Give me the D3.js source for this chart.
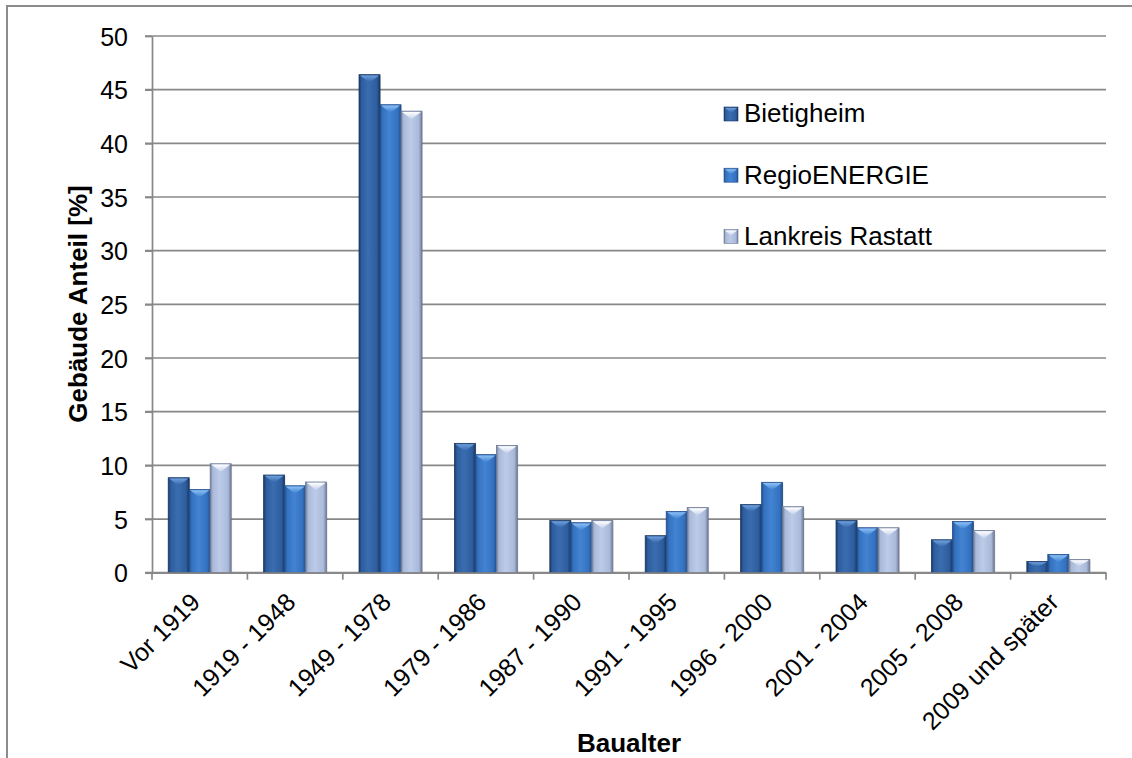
<!DOCTYPE html>
<html lang="de">
<head>
    <meta charset="UTF-8">
    <title>Gebäude Anteil nach Baualter</title>
    <style>
        body { margin: 0; padding: 0; background: #fff; }
        text { font-family: "Liberation Sans", Arial, sans-serif; fill: #000; }
        .grid line { stroke: #888; stroke-width: 1.7; }
        .axis path, .axis line { stroke: #888; stroke-width: 1.7; }
        .axis text { font-size: 25px; }
        .title { font-size: 26px; font-weight: bold; }
    </style>
</head>
<body>
<script src="https://d3js.org/d3.v7.min.js"></script>
<script>
    // Daten
    const categories = ["Vor 1919", "1919 - 1948", "1949 - 1978", "1979 - 1986", "1987 - 1990",
        "1991 - 1995", "1996 - 2000", "2001 - 2004", "2005 - 2008", "2009 und später"];
    const seriesNames = ["Bietigheim", "RegioENERGIE", "Lankreis Rastatt"];
    const bietigheim = [8.85, 9.1, 46.4, 12.05, 4.87, 3.45, 6.35, 4.87, 3.07, 1.05];
    const regioEnergie = [7.75, 8.1, 43.6, 11.0, 4.66, 5.71, 8.42, 4.19, 4.78, 1.7];
    const rastatt = [10.15, 8.45, 43.0, 11.86, 4.87, 6.08, 6.15, 4.19, 3.94, 1.24];
    const yTicks = [0, 5, 10, 15, 20, 25, 30, 35, 40, 45, 50];

    const seriesValues = [bietigheim, regioEnergie, rastatt];

    // Farben pro Serie: Rand, Mitte, Spitze (Chevron)
    const colors = [
        { edge: "#1b3862", mid: "#2d5d9e", light: "#3a6db0", tip1: "#6f9fdc", tip2: "#2f62a6" },
        { edge: "#234f8c", mid: "#3472c0", light: "#4283d2", tip1: "#8cc0f6", tip2: "#3a7ccc" },
        { edge: "#6f7a94", mid: "#a9b9d9", light: "#bccbe8", tip1: "#ffffff", tip2: "#c4d0e8" }
    ];

    const W = 1132, H = 758;
    const margin = { top: 36, right: 26, bottom: 185, left: 152 };

    const svg = d3.select("body").append("svg")
        .attr("width", W)
        .attr("height", H);

    const defs = svg.append("defs");
    colors.forEach((c, i) => {
        const g = defs.append("linearGradient")
            .attr("id", "grad" + i)
            .attr("x1", "0%").attr("x2", "100%").attr("y1", "0%").attr("y2", "0%");
        g.append("stop").attr("offset", "0%").attr("stop-color", c.edge);
        g.append("stop").attr("offset", "12%").attr("stop-color", c.mid);
        g.append("stop").attr("offset", "45%").attr("stop-color", c.light);
        g.append("stop").attr("offset", "85%").attr("stop-color", c.mid);
        g.append("stop").attr("offset", "100%").attr("stop-color", c.edge);

        const t = defs.append("linearGradient")
            .attr("id", "tip" + i)
            .attr("x1", "0%").attr("x2", "0%").attr("y1", "0%").attr("y2", "100%");
        t.append("stop").attr("offset", "0%").attr("stop-color", c.tip1);
        t.append("stop").attr("offset", "100%").attr("stop-color", c.tip2);
    });

    // Rahmen (oben und links)
    svg.append("path")
        .attr("d", `M7,${H} L7,6 L${W},6`)
        .attr("fill", "none")
        .attr("stroke", "#8c8c8c")
        .attr("stroke-width", 2);

    const x0 = d3.scaleBand()
        .domain(categories)
        .range([margin.left, W - margin.right])
        .padding(0);

    const x1 = d3.scaleBand()
        .domain(seriesNames)
        .range([x0.bandwidth() * 0.17, x0.bandwidth() * 0.83])
        .padding(0);

    const y = d3.scaleLinear()
        .domain([0, 50])
        .range([H - margin.bottom - 0.3, margin.top]);

    // Gitterlinien
    svg.append("g")
        .attr("class", "grid")
        .selectAll("line")
        .data(yTicks)
        .enter().append("line")
        .attr("x1", margin.left - 7)
        .attr("x2", W - margin.right)
        .attr("y1", d => y(d))
        .attr("y2", d => y(d));

    // Balken
    const groups = svg.append("g")
        .selectAll("g")
        .data(categories)
        .enter().append("g")
        .attr("transform", d => `translate(${x0(d)},0)`);

    groups.each(function(cat, ci) {
        const g = d3.select(this);
        seriesNames.forEach((s, si) => {
            const v = seriesValues[si][ci];
            const bx = x1(s);
            const bw = x1.bandwidth();
            const top = y(v);
            const bottom = y(0);
            const h = bottom - top;

            // Schatten
            g.append("rect")
                .attr("x", bx + 1)
                .attr("y", top + 1)
                .attr("width", bw)
                .attr("height", h)
                .attr("fill", "rgba(0,0,0,0.12)");

            g.append("rect")
                .attr("x", bx)
                .attr("y", top)
                .attr("width", bw)
                .attr("height", h)
                .attr("fill", `url(#grad${si})`)
                .attr("stroke", colors[si].edge)
                .attr("stroke-width", 0.8);

            // Chevron an der Spitze
            const d = Math.min(8, h * 0.5);
            g.append("path")
                .attr("d", `M${bx + 1},${top + 0.8} L${bx + bw - 1},${top + 0.8} L${bx + bw / 2},${top + d} Z`)
                .attr("fill", `url(#tip${si})`);
        });
    });

    // Achsen
    const yAxis = svg.append("g")
        .attr("class", "axis")
        .attr("transform", `translate(${margin.left},0)`)
        .call(d3.axisLeft(y).tickValues(yTicks).tickSize(7).tickSizeOuter(0).tickPadding(17));
    yAxis.selectAll("text").attr("dy", "0.36em");

    const xAxis = svg.append("g")
        .attr("class", "axis")
        .attr("transform", `translate(0,${y(0)})`)
        .call(d3.axisBottom(x0).tickSize(0).tickSizeOuter(0));

    // Tick-Striche an den Kategoriegrenzen
    xAxis.selectAll(".sep")
        .data(categories.concat(["_end"]))
        .enter().append("line")
        .attr("class", "sep")
        .attr("x1", (d, i) => i < categories.length ? x0(d) : x0.range()[1])
        .attr("x2", (d, i) => i < categories.length ? x0(d) : x0.range()[1])
        .attr("y1", 0)
        .attr("y2", 7);

    xAxis.selectAll(".tick text")
        .style("text-anchor", "end")
        .attr("dy", 0)
        .attr("y", 0)
        .attr("transform", "translate(2,31) rotate(-45)");

    // Achsentitel
    svg.append("text")
        .attr("class", "title")
        .attr("transform", "rotate(-90)")
        .attr("x", -304)
        .attr("y", 87)
        .attr("text-anchor", "middle")
        .text("Gebäude Anteil [%]");

    svg.append("text")
        .attr("class", "title")
        .attr("x", (margin.left + W - margin.right) / 2)
        .attr("y", 752)
        .attr("text-anchor", "middle")
        .text("Baualter");

    // Legende
    const legend = svg.append("g")
        .selectAll("g")
        .data(seriesNames)
        .enter().append("g")
        .attr("transform", (d, i) => `translate(724,${107 + i * 61.2})`);

    legend.append("rect")
        .attr("width", 14)
        .attr("height", 14)
        .attr("fill", (d, i) => `url(#grad${i})`)
        .attr("stroke", (d, i) => colors[i].edge)
        .attr("stroke-width", 0.6);

    legend.append("path")
        .attr("d", "M1,1 L13,1 L7,6 Z")
        .attr("fill", (d, i) => `url(#tip${i})`);

    legend.append("text")
        .attr("x", 20)
        .attr("y", 6)
        .attr("dy", "0.36em")
        .style("font-size", "26px")
        .text(d => d);
</script>
</body>
</html>
